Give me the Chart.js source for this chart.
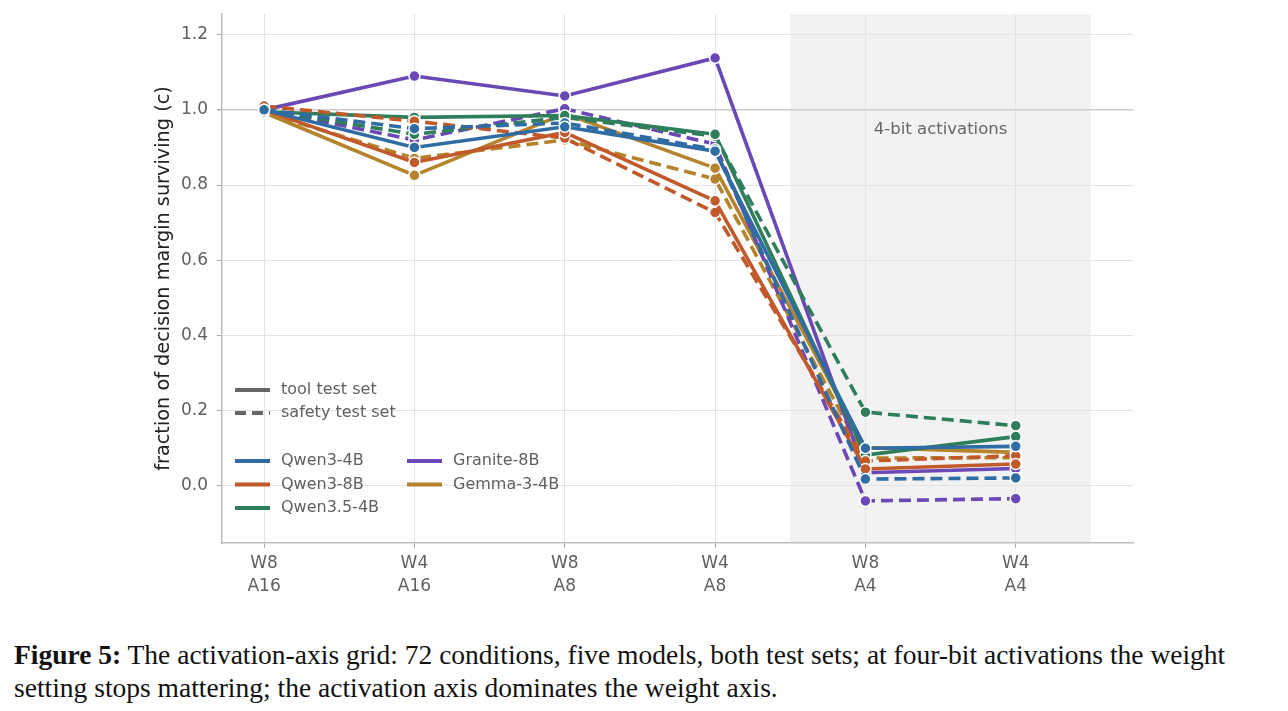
<!DOCTYPE html>
<html>
<head>
<meta charset="utf-8">
<script src="https://cdn.jsdelivr.net/npm/chart.js@4.4.1/dist/chart.umd.min.js"></script>
<style>
html, body { margin: 0; padding: 0; background: #fff; }
#wrap { position: relative; width: 1288px; height: 615px; }
#caption {
    position: absolute; left: 14px; top: 638px;
    font-family: "Liberation Serif", "Times New Roman", serif;
    font-size: 27.5px; line-height: 33px; color: #111; white-space: nowrap;
}
</style>
</head>
<body>
<div id="wrap"><canvas id="grid-chart" width="1288" height="615"></canvas></div>
<div id="caption"><b>Figure 5:</b> The activation-axis grid: 72 conditions, five models, both test sets; at four-bit activations the weight<br>setting stops mattering; the activation axis dominates the weight axis.</div>
<script>
// x categories (weight / activation bits)
const conditions = [['W8', 'A16'], ['W4', 'A16'], ['W8', 'A8'], ['W4', 'A8'], ['W8', 'A4'], ['W4', 'A4']];
const yTicks = [0.0, 0.2, 0.4, 0.6, 0.8, 1.0, 1.2];

const models = ['Qwen3-4B', 'Qwen3-8B', 'Qwen3.5-4B', 'Granite-8B', 'Gemma-3-4B'];
const modelColors = ['#2f6ca3', '#c1592b', '#2e7d5b', '#6a48b5', '#b5832b'];

// fraction of decision margin surviving, tool test set
const qwen3_4bTool    = [1.000, 0.900, 0.955, 0.890, 0.100, 0.105];
const qwen3_8bTool    = [1.000, 0.860, 0.940, 0.758, 0.045, 0.058];
const qwen35_4bTool   = [0.995, 0.980, 0.985, 0.935, 0.082, 0.131];
const granite8bTool   = [1.000, 1.090, 1.037, 1.138, 0.035, 0.046];
const gemma3_4bTool   = [0.993, 0.826, 0.990, 0.845, 0.102, 0.089];

// safety test set
const qwen3_4bSafety  = [1.000, 0.950, 0.965, 0.895, 0.018, 0.021];
const qwen3_8bSafety  = [1.010, 0.970, 0.925, 0.727, 0.066, 0.080];
const qwen35_4bSafety = [1.000, 0.935, 0.980, 0.930, 0.196, 0.160];
const granite8bSafety = [1.000, 0.920, 1.003, 0.909, -0.040, -0.034];
const gemma3_4bSafety = [0.993, 0.871, 0.920, 0.816, 0.074, 0.075];

const toolSeries = [qwen3_4bTool, qwen3_8bTool, qwen35_4bTool, granite8bTool, gemma3_4bTool];
const safetySeries = [qwen3_4bSafety, qwen3_8bSafety, qwen35_4bSafety, granite8bSafety, gemma3_4bSafety];

const bandFrom = 3.5, bandTo = 5.5;
const bandLabel = '4-bit activations';
const styleLabels = ['tool test set', 'safety test set'];

const tickFont = { family: 'DejaVu Sans', size: 17 };
const textGray = '#606060';
const dashPattern = [12, 6];

function toPoints(values)
{
    return values.map((v, i) => ({ x: i, y: v }));
}

function makeDataset(name, color, values, dashed)
{
    return {
        label: name + (dashed ? ' safety' : ' tool'),
        data: toPoints(values),
        borderColor: color,
        backgroundColor: color,
        borderWidth: 3.6,
        borderDash: dashed ? dashPattern : [],
        pointRadius: 5.5,
        pointHoverRadius: 5.5,
        pointBackgroundColor: color,
        pointBorderColor: '#ffffff',
        pointBorderWidth: 1.5,
        tension: 0
    };
}

let datasets = [];
models.forEach((name, i) => {
    datasets.push(makeDataset(name, modelColors[i], toolSeries[i], false));
    datasets.push(makeDataset(name, modelColors[i], safetySeries[i], true));
});

const bandPlugin = {
    id: 'band',
    beforeDraw(chart) {
        const { ctx, chartArea, scales } = chart;
        const x0 = scales.x.getPixelForValue(bandFrom);
        const x1 = scales.x.getPixelForValue(bandTo);
        ctx.save();
        ctx.fillStyle = '#f2f2f2';
        ctx.fillRect(x0, chartArea.top, x1 - x0, chartArea.bottom - chartArea.top);
        ctx.restore();
    },
    beforeDatasetsDraw(chart) {
        const { ctx, scales } = chart;
        ctx.save();
        ctx.font = '16.5px "DejaVu Sans"';
        ctx.fillStyle = '#666';
        ctx.textAlign = 'center';
        ctx.textBaseline = 'middle';
        ctx.fillText(bandLabel, scales.x.getPixelForValue((bandFrom + bandTo) / 2), scales.y.getPixelForValue(0.947));
        ctx.restore();
    }
};

// legend: line styles on top, models in two columns below
const legendPlugin = {
    id: 'customLegend',
    afterDraw(chart) {
        const { ctx, chartArea } = chart;
        const left = chartArea.left + 13;
        ctx.save();
        ctx.font = '16px "DejaVu Sans"';
        ctx.textBaseline = 'middle';
        ctx.lineWidth = 4;

        styleLabels.forEach((label, i) => {
            const y = 390 + i * 23;
            ctx.strokeStyle = '#666';
            ctx.setLineDash(i === 0 ? [] : [11, 6]);
            ctx.beginPath();
            ctx.moveTo(left, y);
            ctx.lineTo(left + 35, y);
            ctx.stroke();
            ctx.fillStyle = textGray;
            ctx.fillText(label, left + 46, y);
        });

        ctx.setLineDash([]);
        models.forEach((name, i) => {
            const col = i < 3 ? 0 : 1;
            const row = i < 3 ? i : i - 3;
            const x = left + col * 172;
            const y = 461 + row * 23.5;
            ctx.strokeStyle = modelColors[i];
            ctx.beginPath();
            ctx.moveTo(x, y);
            ctx.lineTo(x + 35, y);
            ctx.stroke();
            ctx.fillStyle = textGray;
            ctx.fillText(name, x + 46, y);
        });
        ctx.restore();
    }
};

new Chart(document.getElementById('grid-chart'), {
    type: 'line',
    data: { datasets: datasets },
    options: {
        responsive: false,
        animation: false,
        devicePixelRatio: 1,
        layout: { padding: { top: 14, right: 155, left: 0, bottom: 0 } },
        plugins: {
            legend: { display: false },
            tooltip: { enabled: false }
        },
        scales: {
            x: {
                type: 'linear',
                min: -0.28,
                max: 5.78,
                afterBuildTicks: (scale) => {
                    scale.ticks = conditions.map((c, i) => ({ value: i }));
                },
                afterFit: (scale) => { scale.height = 72; },
                ticks: {
                    callback: (value) => conditions[value],
                    font: { family: 'DejaVu Sans', size: 17, lineHeight: 1.35 },
                    color: textGray,
                    padding: 4,
                    maxRotation: 0
                },
                grid: { color: '#e4e4e4', lineWidth: 1, tickLength: 5, tickColor: '#aaaaaa' },
                border: { color: '#bdbdbd', width: 1.5 }
            },
            y: {
                min: -0.152,
                max: 1.255,
                afterBuildTicks: (scale) => {
                    scale.ticks = yTicks.map((v) => ({ value: v }));
                },
                afterFit: (scale) => {
                    scale.width = 222;
                    scale.paddingTop = 0;
                    scale.paddingBottom = 0;
                },
                ticks: {
                    callback: (value) => value.toFixed(1),
                    font: tickFont,
                    color: textGray,
                    padding: 9
                },
                grid: {
                    color: (ctx) => (ctx.tick && ctx.tick.value === 1 ? '#cccccc' : '#e4e4e4'),
                    lineWidth: (ctx) => (ctx.tick && ctx.tick.value === 1 ? 1.5 : 1),
                    tickLength: 5,
                    tickColor: '#aaaaaa'
                },
                border: { color: '#bdbdbd', width: 1.5 },
                title: {
                    display: true,
                    text: 'fraction of decision margin surviving (c)',
                    font: { family: 'DejaVu Sans', size: 19.3 },
                    color: '#222',
                    padding: { top: 152, bottom: 0 }
                }
            }
        }
    },
    plugins: [bandPlugin, legendPlugin]
});
</script>
</body>
</html>
